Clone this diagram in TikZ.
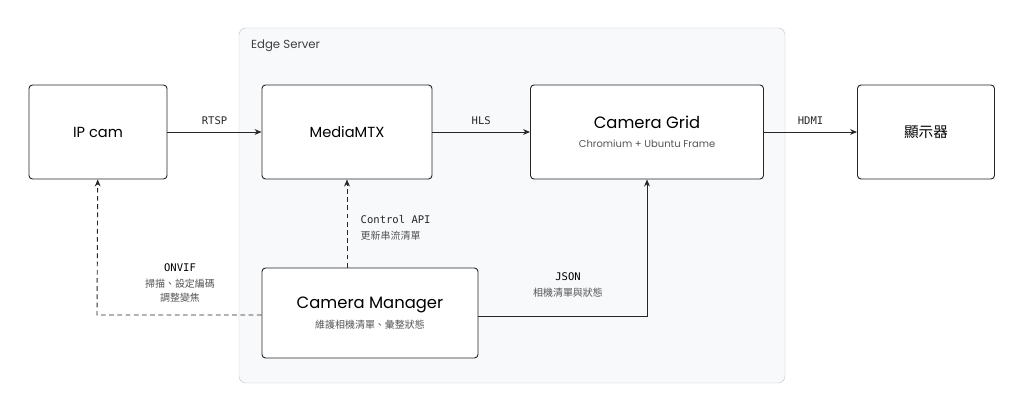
\documentclass[tikz,border=0pt]{standalone}
\usepackage{fontspec}
\setmainfont{Poppins}
\newfontfamily\cjk{Noto Sans CJK TC}
\newfontfamily\codefont{DejaVu Sans Mono}
\usetikzlibrary{arrows.meta,positioning}
\definecolor{edgefill}{HTML}{F8F9FB}
\definecolor{edgeline}{HTML}{C4C8CE}
\definecolor{subgray}{HTML}{555555}
\newcommand{\notetxt}[1]{{\cjk\fontsize{8.5}{11}\selectfont\color{subgray}#1}}
\newcommand{\tagtxt}[1]{{\codefont\fontsize{9}{11}\selectfont #1}}
\tikzset{
  box/.style={draw=black!85, thick, rounded corners=3pt, fill=white, align=center},
  flow/.style={-{Stealth[length=6pt,width=5pt]}, thick, black!85},
  ctrl/.style={flow, dash pattern=on 4pt off 3pt},
  tag/.style={font=\codefont\fontsize{9}{11}\selectfont, align=center, inner sep=1pt}
}
\begin{document}
\begin{tikzpicture}[x=0.03cm,y=-0.03cm]
      \useasboundingbox (0,0) rectangle (1024,413);
      \draw[edgeline, fill=edgefill, rounded corners=6pt] (239,28) rectangle (785,383);
      \node[anchor=west, font=\fontsize{10}{12}\selectfont, text=black!75] at (247,46) (edge) {Edge Server};
      \node[box, minimum width=138*0.03cm, minimum height=94*0.03cm] at (98,132) (ipcam) {\fontsize{12.5}{14}\selectfont IP cam};
      \node[box, minimum width=170*0.03cm, minimum height=94*0.03cm] at (347,132) (mtx) {\fontsize{12.5}{14}\selectfont MediaMTX};
      \node[box, minimum width=233*0.03cm, minimum height=94*0.03cm] at (647,132) (grid) {\fontsize{14}{16}\selectfont Camera Grid\\[4pt] \fontsize{8.5}{10}\selectfont\color{subgray}Chromium + Ubuntu Frame};
      \node[box, minimum width=137*0.03cm, minimum height=94*0.03cm] at (926,132) (disp) {\cjk\fontsize{12.5}{14}\selectfont 顯示器};
      \node[box, minimum width=216*0.03cm, minimum height=90*0.03cm] at (370,313) (mgr) {\fontsize{14}{16}\selectfont Camera Manager\\[5pt] \notetxt{維護相機清單、彙整狀態}};
      \coordinate (onvifbend) at (97,315);
      \coordinate (jsonbend) at (647,316);
      \draw[flow] (ipcam) -- node[tag, above=5pt] {RTSP} (mtx);
      \draw[flow] (mtx) -- node[tag, above=5pt] {HLS} (grid);
      \draw[flow] (grid) -- node[tag, above=5pt] {HDMI} (disp);
      \draw[ctrl] (mgr.north -| mtx) -- node[right=8pt, align=left, yshift=-4pt] {\tagtxt{Control API}\\[2pt]\notetxt{更新串流清單}} (mtx);
      \draw[ctrl] (mgr.west |- onvifbend) -- (onvifbend) -- (ipcam);
      \draw[flow] (mgr.east |- jsonbend) -- (jsonbend) -- (grid);
      \node[align=center] at (180,283) (onviflbl) {\tagtxt{ONVIF}\\[1pt]\notetxt{掃描、設定編碼}\\[0pt]\notetxt{調整變焦}};
      \node[align=center] at (568,285) (jsonlbl) {\tagtxt{JSON}\\[2pt]\notetxt{相機清單與狀態}};
\end{tikzpicture}
\end{document}
